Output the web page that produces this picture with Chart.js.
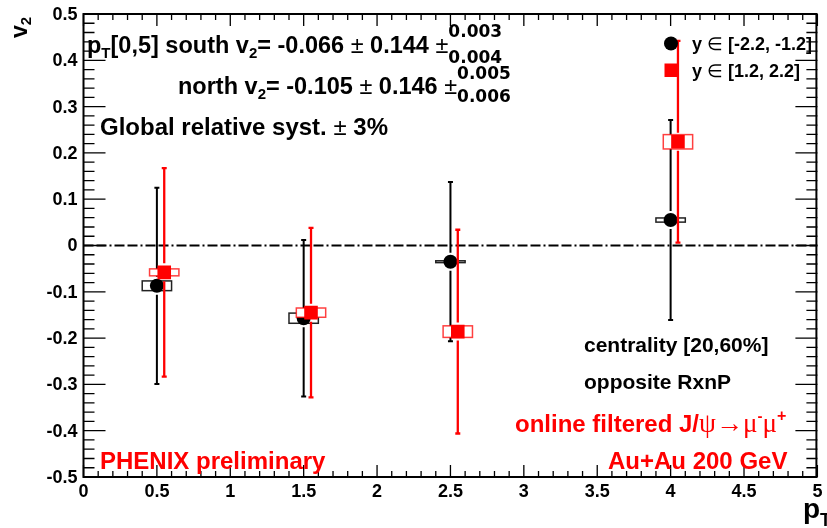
<!DOCTYPE html>
<html>
<head>
<meta charset="utf-8">
<script src="https://cdn.jsdelivr.net/npm/chart.js@4.4.1/dist/chart.umd.min.js"></script>
<style>
html,body{margin:0;padding:0;background:#fff;}
canvas{display:block;}
</style>
</head>
<body>
<canvas id="c" width="827" height="528"></canvas>
<script>
// ---- data ----
const southX    = [0.5, 1.5, 2.5, 4.0];
const southV2   = [-0.087, -0.157, -0.035, 0.055];
const southStat = [0.212, 0.169, 0.172, 0.216];
const southSyst = [0.0105, 0.011, 0.002, 0.0045];

const northX    = [0.55, 1.55, 2.55, 4.05];
const northV2   = [-0.058, -0.145, -0.186, 0.224];
const northStat = [0.225, 0.183, 0.220, 0.218];
const northSyst = [0.0075, 0.010, 0.0125, 0.0155];

const systHalfWidth = 0.1;

const xTickValues = [0, 0.5, 1, 1.5, 2, 2.5, 3, 3.5, 4, 4.5, 5];
const xTickLabels = ['0','0.5','1','1.5','2','2.5','3','3.5','4','4.5','5'];
const yTickValues = [-0.5,-0.4,-0.3,-0.2,-0.1,0,0.1,0.2,0.3,0.4,0.5];
const yTickLabels = ['-0.5','-0.4','-0.3','-0.2','-0.1','0','0.1','0.2','0.3','0.4','0.5'];
const xMinorStep = 0.1;
const yMinorStep = 0.02;

const SANS = '"Liberation Sans"';
const WIDE = '"DejaVu Sans"';
const SERIF = '"Liberation Serif"';

function drawRich(ctx, x, y, parts, color) {
  ctx.save();
  ctx.fillStyle = color;
  ctx.textBaseline = 'alphabetic';
  ctx.textAlign = 'left';
  let cx = x;
  for (const p of parts) {
    if (p.stack) {
      ctx.font = p.f;
      const w1 = ctx.measureText(p.sup).width, w2 = ctx.measureText(p.sub).width;
      ctx.fillText(p.sup, cx, y + p.supDy);
      ctx.fillText(p.sub, cx, y + p.subDy);
      cx += Math.max(w1, w2);
    } else {
      ctx.font = p.f;
      ctx.fillText(p.t, cx, y + (p.dy || 0));
      cx += ctx.measureText(p.t).width;
    }
  }
  ctx.restore();
}

function errorBars(ctx, chart, xs, ys, errs, color, lw, gap) {
  const xs_ = chart.scales.x, ys_ = chart.scales.y;
  ctx.save();
  ctx.strokeStyle = color;
  ctx.lineWidth = lw;
  for (let i = 0; i < xs.length; i++) {
    const px = xs_.getPixelForValue(xs[i]);
    const py = ys_.getPixelForValue(ys[i]);
    const pt = ys_.getPixelForValue(ys[i] + errs[i]);
    const pb = ys_.getPixelForValue(ys[i] - errs[i]);
    ctx.beginPath();
    ctx.moveTo(px, pt); ctx.lineTo(px, py - gap);
    ctx.moveTo(px, py + gap); ctx.lineTo(px, pb);
    ctx.moveTo(px - 2.5, pt); ctx.lineTo(px + 2.5, pt);
    ctx.moveTo(px - 2.5, pb); ctx.lineTo(px + 2.5, pb);
    ctx.stroke();
  }
  ctx.restore();
}

function systBoxes(ctx, chart, xs, ys, syst, color) {
  const xs_ = chart.scales.x, ys_ = chart.scales.y;
  ctx.save();
  ctx.strokeStyle = color;
  ctx.fillStyle = '#fff';
  ctx.lineWidth = 1.5;
  for (let i = 0; i < xs.length; i++) {
    const x0 = xs_.getPixelForValue(xs[i] - systHalfWidth);
    const x1 = xs_.getPixelForValue(xs[i] + systHalfWidth);
    const y0 = ys_.getPixelForValue(ys[i] + syst[i]);
    const y1 = ys_.getPixelForValue(ys[i] - syst[i]);
    ctx.fillRect(x0, y0, x1 - x0, y1 - y0);
    ctx.strokeRect(x0, y0, x1 - x0, y1 - y0);
  }
  ctx.restore();
}

const rootPlugin = {
  id: 'rootStyle',
  beforeDatasetsDraw(chart) {
    const ctx = chart.ctx;
    const a = chart.chartArea;
    const xs = chart.scales.x, ys = chart.scales.y;
    ctx.save();
    // zero line (dash-dot)
    ctx.strokeStyle = '#000';
    ctx.lineWidth = 2;
    ctx.setLineDash([10, 3, 10, 3, 2, 3]);
    ctx.beginPath();
    const y0 = ys.getPixelForValue(0);
    ctx.moveTo(xs.getPixelForValue(0), y0);
    ctx.lineTo(xs.getPixelForValue(5), y0);
    ctx.stroke();
    ctx.setLineDash([]);
    // ticks
    ctx.lineWidth = 1.3;
    ctx.beginPath();
    for (let k = 0; k <= Math.round((xs.max - xs.min) / xMinorStep); k++) {
      const v = xs.min + k * xMinorStep;
      const px = xs.getPixelForValue(v);
      const major = Math.abs(v * 2 - Math.round(v * 2)) < 1e-6;
      const len = major ? 12 : 6;
      ctx.moveTo(px, a.bottom); ctx.lineTo(px, a.bottom - len);
      ctx.moveTo(px, a.top); ctx.lineTo(px, a.top + len);
    }
    for (let k = 0; k <= Math.round((ys.max - ys.min) / yMinorStep); k++) {
      const v = ys.min + k * yMinorStep;
      const py = ys.getPixelForValue(v);
      const major = Math.abs(v * 10 - Math.round(v * 10)) < 1e-6;
      const len = major ? 22 : 11;
      ctx.moveTo(a.left, py); ctx.lineTo(a.left + len, py);
      ctx.moveTo(a.right, py); ctx.lineTo(a.right - len, py);
    }
    ctx.stroke();
    // frame
    ctx.lineWidth = 2;
    ctx.strokeRect(a.left, a.top, a.right - a.left - 1, a.bottom - a.top);
    // tick labels
    ctx.fillStyle = '#000';
    ctx.font = 'bold 18px ' + SANS;
    ctx.textAlign = 'center';
    ctx.textBaseline = 'alphabetic';
    xTickValues.forEach((v, i) => {
      ctx.fillText(xTickLabels[i], xs.getPixelForValue(v), 497);
    });
    ctx.font = 'bold 18px ' + SANS;
    ctx.textAlign = 'right';
    ctx.textBaseline = 'middle';
    yTickValues.forEach((v, i) => {
      ctx.fillText(yTickLabels[i], a.left - 6, ys.getPixelForValue(v) + 1);
    });
    ctx.restore();
  },
  beforeDatasetDraw(chart, args) {
    const ctx = chart.ctx;
    if (args.index === 0) {
      errorBars(ctx, chart, southX, southV2, southStat, '#000', 2, 9);
      systBoxes(ctx, chart, southX, southV2, southSyst, '#222');
    } else {
      errorBars(ctx, chart, northX, northV2, northStat, '#f00', 2.3, 9);
      systBoxes(ctx, chart, northX, northV2, northSyst, 'rgba(255,0,0,0.75)');
    }
  },
  afterDraw(chart) {
    const ctx = chart.ctx;
    const M = 'bold 23.5px ' + SANS;
    const S = 'bold 15px ' + SANS;
    const P = 'bold 17px ' + WIDE;
    const PM = '23.5px ' + SANS;
    // line 1
    drawRich(ctx, 87, 53, [
      {t:'p', f:M}, {t:'T', f:S, dy:5}, {t:'[0,5] south v', f:M}, {t:'2', f:S, dy:5},
      {t:'= -0.066 ', f:M}, {t:'\u00b1', f:PM}, {t:' 0.144 ', f:M}, {t:'\u00b1', f:PM},
      {stack:true, sup:'0.003', sub:'0.004', f:P, supDy:-16, subDy:10}
    ], '#000');
    // line 2
    drawRich(ctx, 178, 94, [
      {t:'north v', f:M}, {t:'2', f:S, dy:5},
      {t:'= -0.105 ', f:M}, {t:'\u00b1', f:PM}, {t:' 0.146 ', f:M}, {t:'\u00b1', f:PM},
      {stack:true, sup:'0.005', sub:'0.006', f:P, supDy:-15, subDy:8}
    ], '#000');
    // global syst
    drawRich(ctx, 100, 135, [
      {t:'Global relative syst. ', f:'bold 24px ' + SANS}, {t:'\u00b1', f:'24px ' + SANS},
      {t:' 3%', f:'bold 24px ' + SANS}
    ], '#000');
    // right block
    drawRich(ctx, 584, 352, [{t:'centrality [20,60%]', f:'bold 21px ' + SANS}], '#000');
    drawRich(ctx, 584, 389, [{t:'opposite RxnP', f:'bold 21px ' + SANS}], '#000');
    const R = 'bold 24px ' + SANS;
    const G = '27px ' + SERIF;
    drawRich(ctx, 515, 432, [
      {t:'online filtered J/', f:R}, {t:'\u03c8\u2192\u03bc', f:G}, {t:'-', f:'bold 15px ' + SANS, dy:-11},
      {t:'\u03bc', f:G}, {t:'+', f:'bold 16px ' + SANS, dy:-11}
    ], '#f00');
    drawRich(ctx, 100, 469, [{t:'PHENIX preliminary', f:R}], '#f00');
    drawRich(ctx, 608, 469, [{t:'Au+Au 200 GeV', f:R}], '#f00');
    // legend
    ctx.save();
    ctx.fillStyle = '#000';
    ctx.beginPath(); ctx.arc(671, 43.5, 7, 0, Math.PI * 2); ctx.fill();
    ctx.fillStyle = '#f00';
    ctx.fillRect(664.5, 63.5, 13.5, 13.5);
    ctx.restore();
    const L = 'bold 18px ' + SANS;
    const LS = '18px ' + SANS;
    drawRich(ctx, 692, 50, [{t:'y ', f:L}, {t:'\u2208', f:LS}, {t:' [-2.2, -1.2]', f:L}], '#000');
    drawRich(ctx, 692, 77, [{t:'y ', f:L}, {t:'\u2208', f:LS}, {t:' [1.2, 2.2]', f:L}], '#000');
    // axis titles
    ctx.save();
    ctx.fillStyle = '#000';
    ctx.translate(27, 38);
    ctx.rotate(-Math.PI / 2);
    ctx.font = 'bold 23px ' + SANS;
    ctx.fillText('v', 0, 0);
    const vw = ctx.measureText('v').width;
    ctx.font = 'bold 15px ' + SANS;
    ctx.fillText('2', vw, 4);
    ctx.restore();
    drawRich(ctx, 803, 517.5, [{t:'p', f:'bold 28px ' + SANS}, {t:'T', f:'bold 18px ' + SANS, dy:8}], '#000');
  }
};

const chart = new Chart(document.getElementById('c'), {
  type: 'scatter',
  data: {
    datasets: [
      {
        label: 'y \u2208 [-2.2, -1.2]',
        data: southX.map((x, i) => ({x, y: southV2[i]})),
        pointStyle: 'circle', pointRadius: 7, pointHoverRadius: 7,
        backgroundColor: '#000', borderWidth: 0, order: 2
      },
      {
        label: 'y \u2208 [1.2, 2.2]',
        data: northX.map((x, i) => ({x, y: northV2[i]})),
        pointStyle: 'rect', pointRadius: 9.6, pointHoverRadius: 9.6,
        backgroundColor: '#f00', borderWidth: 0, order: 1
      }
    ]
  },
  options: {
    responsive: false,
    animation: false,
    devicePixelRatio: 1,
    layout: { padding: { top: 14, right: 0, left: 0, bottom: 0 } },
    plugins: { legend: { display: false }, tooltip: { enabled: false } },
    events: [],
    scales: {
      x: {
        type: 'linear', min: 0, max: 5,
        grid: { display: false }, border: { display: false },
        ticks: { display: false },
        afterFit(s) { s.height = 51; s.paddingLeft = 0; s.paddingRight = 0; }
      },
      y: {
        type: 'linear', min: -0.5, max: 0.5,
        grid: { display: false }, border: { display: false },
        ticks: { display: false },
        afterFit(s) { s.width = 83.5; s.paddingTop = 0; s.paddingBottom = 0; }
      }
    }
  },
  plugins: [rootPlugin]
});
</script>
</body>
</html>
